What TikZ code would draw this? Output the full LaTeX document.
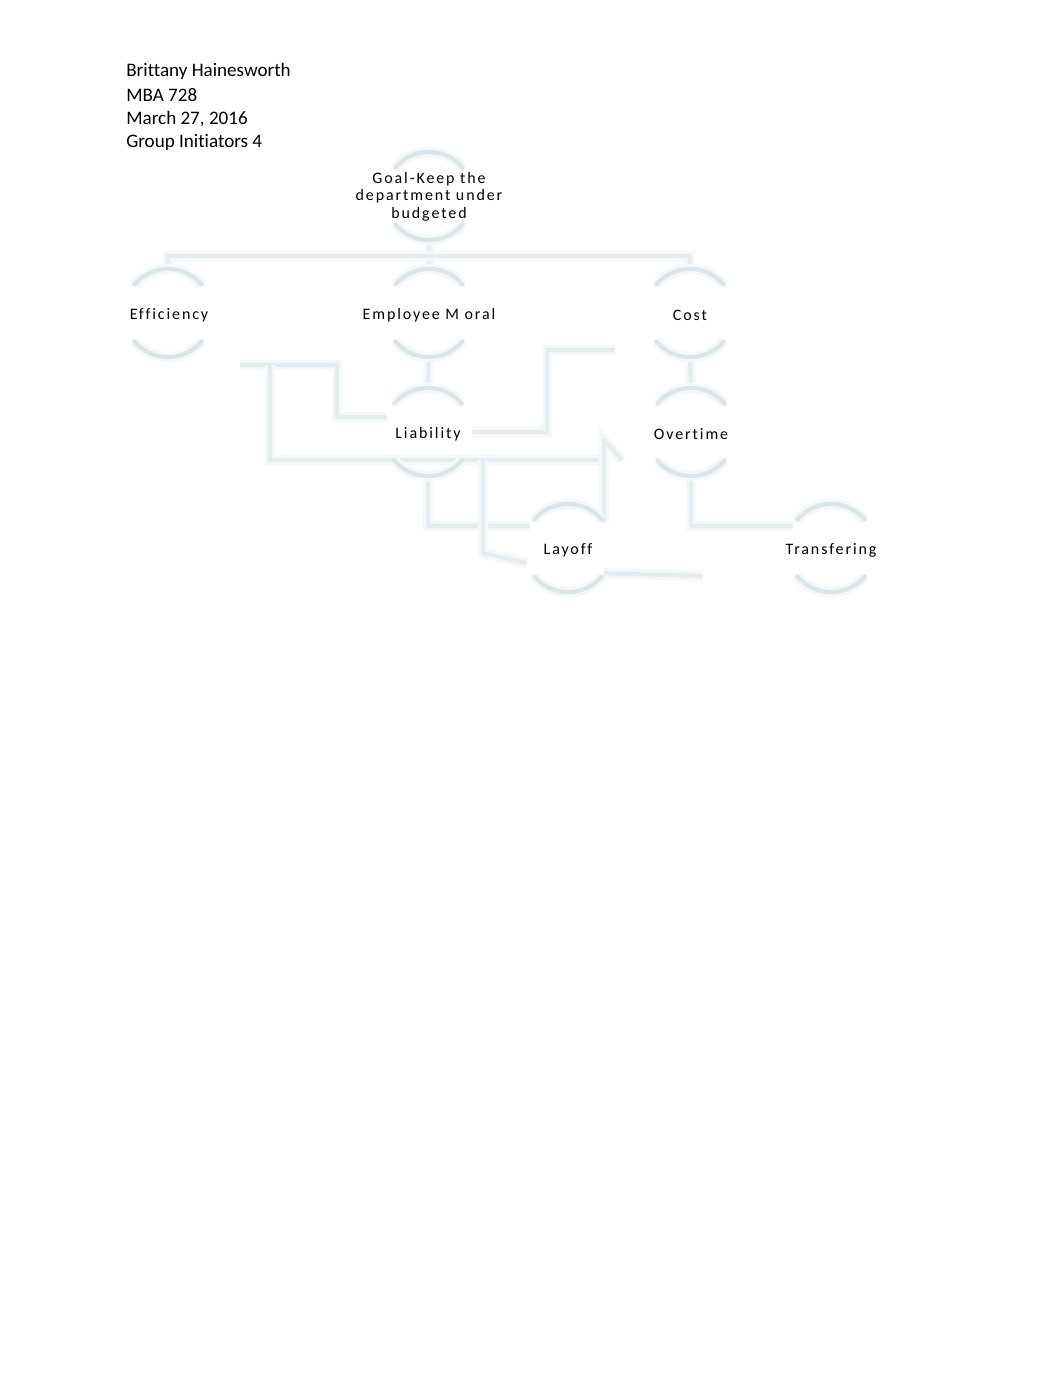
\documentclass[tikz,border=0pt]{standalone}
\usepackage{fontspec}
\setmainfont{Carlito}[Ligatures=NoCommon]
\usetikzlibrary{arrows.meta}
\definecolor{soft}{RGB}{245,248,249}
\definecolor{lineblue}{RGB}{229,236,239}
\definecolor{arcblue}{RGB}{218,229,234}
\tikzset{
  x=0.5765pt, y=0.5765pt,
  ring/.style={circle, minimum size=50.8pt, inner sep=0pt, outer sep=0pt, draw=none},
  lbl/.style={font=\fontsize{9.2}{10.1}\selectfont\addfontfeature{LetterSpace=12,Ligatures=NoCommon}, inner sep=0pt, align=center, text=black},
  conn/.style={draw=lineblue, line width=2.4pt, line join=round,
    preaction={draw=soft, line width=6pt}},
  arcst/.style={draw=arcblue, line width=2.4pt, line cap=round,
    preaction={draw=soft, line width=6pt}},
  hdr/.style={anchor=base west, inner sep=0pt, font=\fontsize{11}{13.4}\selectfont}
}
\begin{document}
\begin{tikzpicture}
\useasboundingbox (0,0) rectangle (1062,-1377);
\fill[white] (0,0) rectangle (1062,-1377);

% header
\node[hdr] (h1) at (126,-76) {Brittany Hainesworth};
\node[hdr] (h2) at (126,-101) {MBA 728};
\node[hdr] (h3) at (126,-124) {March 27, 2016};
\node[hdr] (h4) at (126,-147) {Group Initiators 4};

% circles
\node[ring] (goal) at (429,-196) {};
\node[ring] (eff) at (168,-313) {};
\node[ring] (em) at (429,-313) {};
\node[ring] (cost) at (690,-313) {};
\node[ring] (liab) at (428,-432) {};
\node[ring] (over) at (691,-432) {};
\node[ring] (layoff) at (568,-548) {};
\node[ring] (trans) at (831,-548) {};

% connectors
\draw[conn] (goal.south) -- (em.north);
\draw[conn] (eff.north) -- ++(0,13) -| (cost.north);
\draw[conn] (em.south) -- (liab.north);
\draw[conn] (cost.south) -- (over.north);
\draw[conn] (liab.south) |- (layoff.150);
\draw[conn] (over.south) |- (trans.150);

\coordinate (e1) at (240,-365);
\coordinate (e2) at (270,-365);
\coordinate (c1) at (615,-350);
\coordinate (g1) at (604,-440);
\coordinate (g2) at (622,-460);
\coordinate (h0) at (483,-460);
\coordinate (t1) at (703,-576);

\draw[conn] (e1) -- (337,-365) |- (liab.160);
\draw[conn] (e2) |- (604,-460);
\draw[conn] (layoff.35) -- (g1) -- (g2);
\draw[conn] (h0) -- (483,-553) -- (layoff.200);
\draw[conn] (layoff.-35) -- (t1);
\draw[conn] (c1) -- (547,-350) |- (liab.east);

% arcs on circles
\foreach \n in {goal,eff,em,cost,liab,over,layoff,trans}{
  \draw[arcst] (\n.140) arc[start angle=140, end angle=40, radius=25.4pt];
  \draw[arcst] (\n.220) arc[start angle=220, end angle=320, radius=25.4pt];
}

% labels
\node[lbl] (goalt) at (429,-196.5) {Goal-Keep the\\department under\\budgeted};
\node[lbl] (efft) at (169,-315.5) {Efficiency};
\node[lbl] (emt) at (429,-315.5) {Employee M oral};
\node[lbl] (costt) at (690,-315) {Cost};
\node[lbl] (liabt) at (428,-434.5) {Liability};
\node[lbl] (overt) at (691,-434) {Overtime};
\node[lbl] (layofft) at (568,-550.5) {Layoff};
\node[lbl] (transt) at (831,-550.5) {Transfering};
\end{tikzpicture}
\end{document}
